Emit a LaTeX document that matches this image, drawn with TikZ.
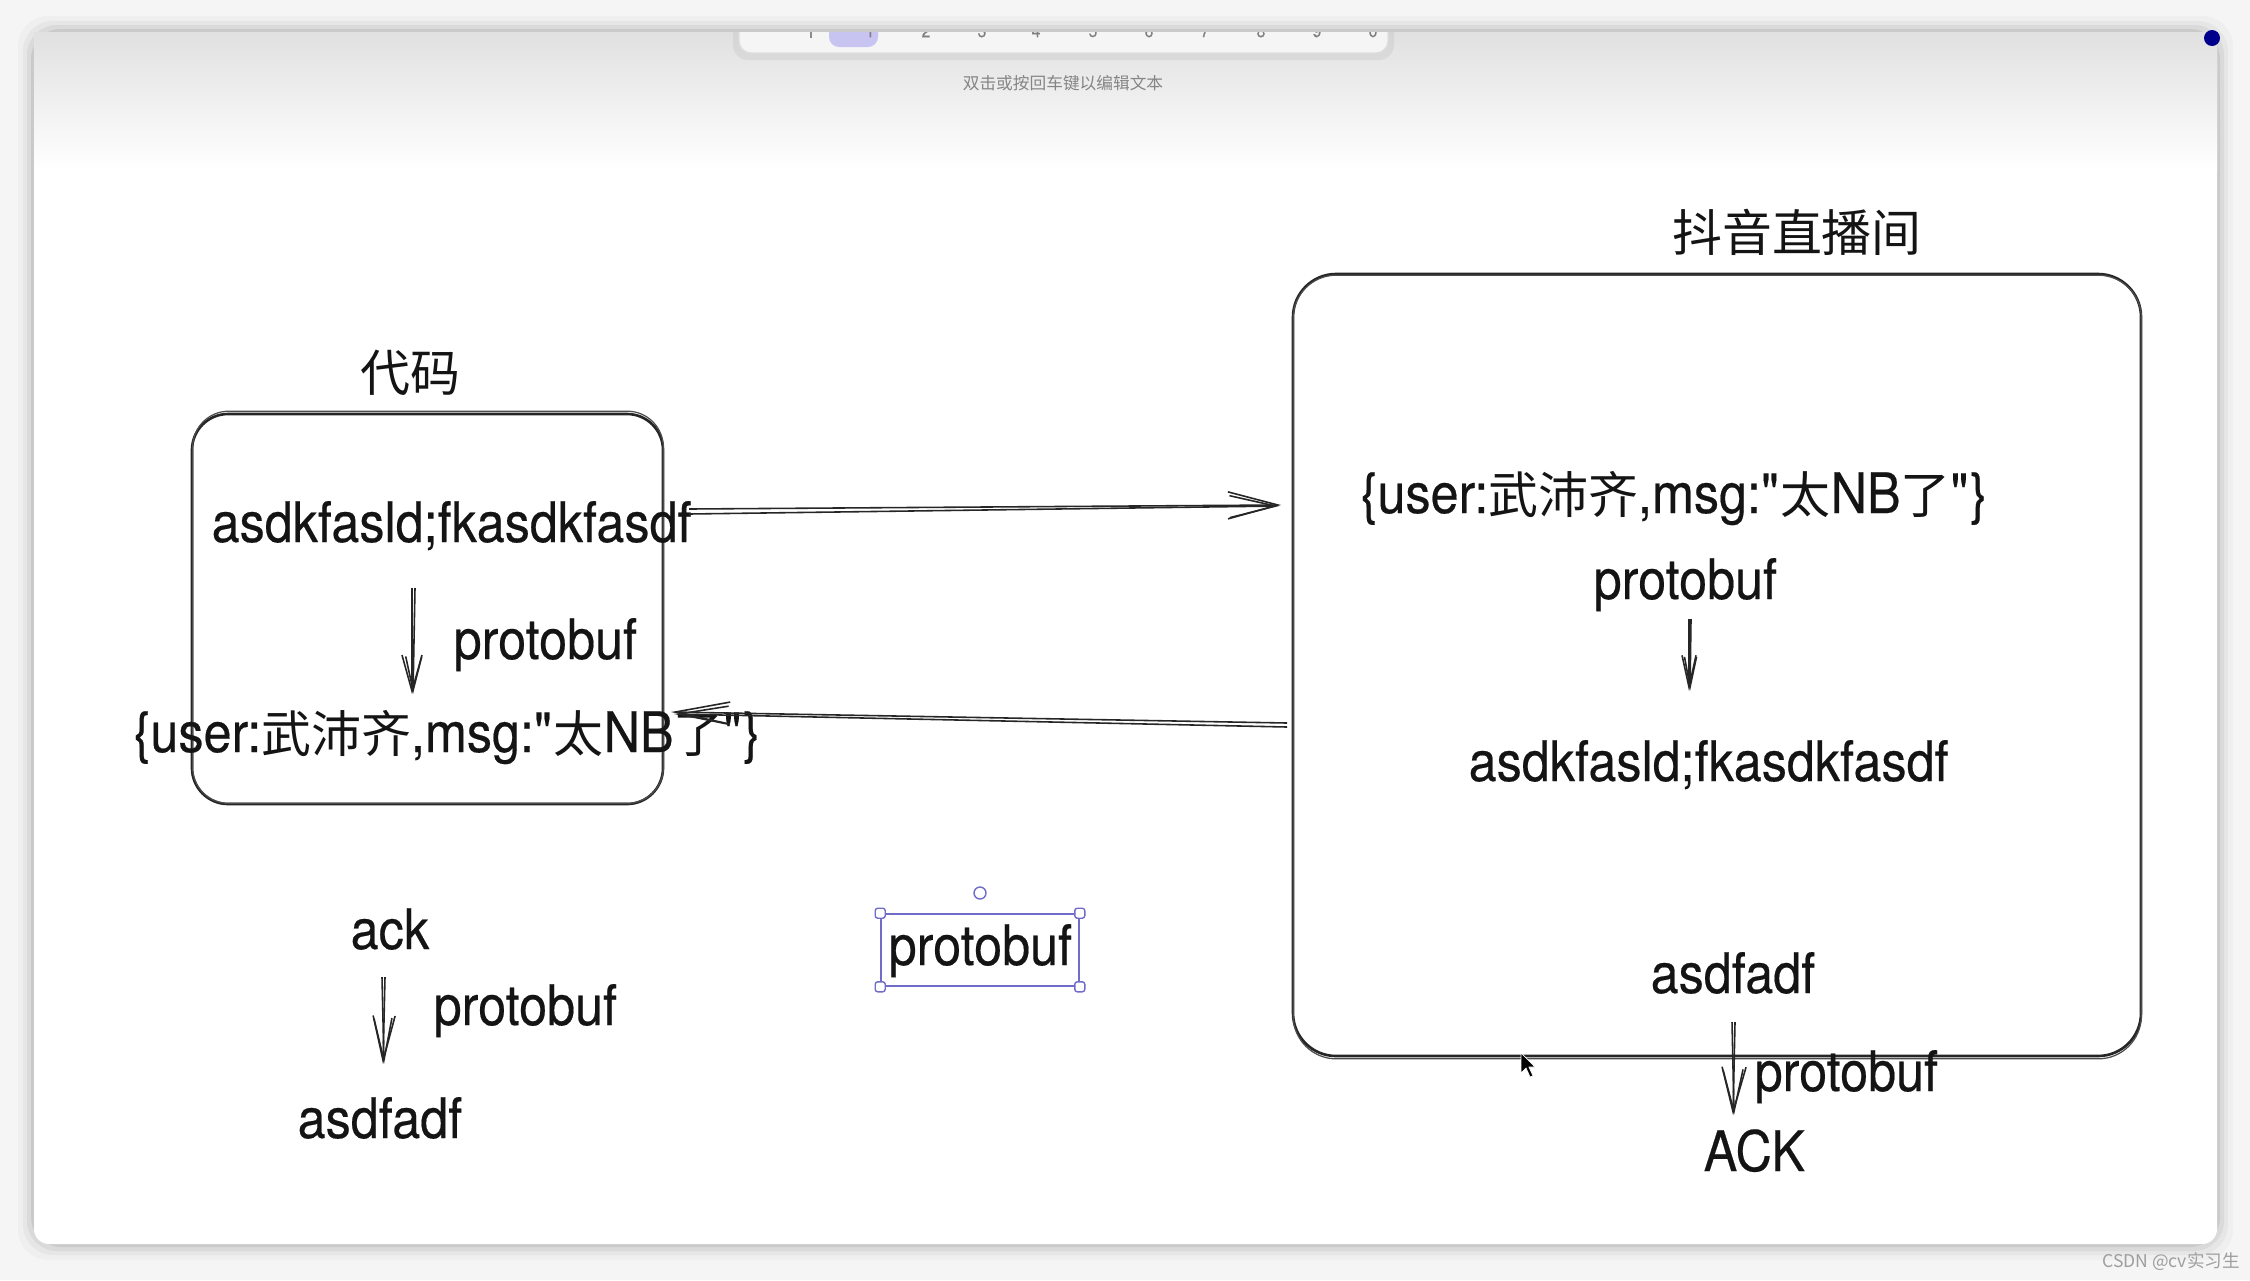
\documentclass[tikz,border=0pt]{standalone}
\usepackage{fontspec}
\setmainfont{TeX Gyre Heros}[FakeStretch=0.9,FakeBold=0.35]
\newfontfamily\cjk{Noto Sans CJK SC}
\usetikzlibrary{arrows.meta}
\newcommand\zhc[1]{{\cjk\fontsize{14.2}{17}\selectfont#1}}
\definecolor{selc}{RGB}{112,108,200}
\definecolor{hilite}{RGB}{200,196,242}
\tikzset{
  lbl/.style={anchor=base west, inner sep=0pt, text=black!92, font=\fontsize{15.9}{18}\selectfont},
  ttl/.style={anchor=center, inner sep=0pt, text=black!92, font=\cjk\fontsize{14.2}{17}\selectfont},
  boxst/.style={draw=black!85, line width=0.75pt, inner sep=0pt},
  boxsk/.style={draw=black!70, line width=0.35pt},
  conn/.style={draw=black!85, line width=0.45pt},
  tinytxt/.style={inner sep=0pt, text=black!50, font=\fontsize{5}{6}\selectfont},
  handle/.style={draw=selc, fill=white, line width=0.4pt, inner sep=0pt, rounded corners=0.25mm}
}
\begin{document}
\begin{tikzpicture}[x=0.1mm,y=-0.1mm]
\useasboundingbox (0,0) rectangle (2250,1280);
% ---------- screenshot frame ----------
\fill[black!4] (0,0) rectangle (2250,1280);
\foreach \d/\o in {16/0.025,11/0.035,7/0.05,3/0.07}
  \fill[black,opacity=\o,rounded corners=3mm] (34-\d,32-\d) rectangle (2217+\d,1244+\d);
\fill[white,rounded corners=1.5mm] (34,32) rectangle (2217,1244);
\shade[top color=black!12, bottom color=white] (34,32) rectangle (2217,170);
\begin{scope}
  \clip (0,32) rectangle (2250,1280);
  \fill[black,opacity=0.05,rounded corners=1.5mm] (733,10) rectangle (1394,60);
  \filldraw[fill=black!4, draw=black!13, line width=0.4pt, rounded corners=1.2mm] (739,10) rectangle (1388,53);
  \fill[hilite,rounded corners=1mm] (829,10) rectangle (878,47);
  \draw[black!45,line width=0.3pt] (811,26) -- (811,38);
  \foreach \x/\t in {870/1,926/2,982/3,1036/4,1093/5,1149/6,1205/7,1261/8,1317/9,1373/0}
    \node[tinytxt] at (\x,31) {\t};
\end{scope}
\node[inner sep=0pt, text=black!48, font=\cjk\fontsize{4.75}{6}\selectfont] (hint) at (1063,83) {双击或按回车键以编辑文本};
\fill[blue!55!black] (2212,38) circle (8);
\node[inner sep=0pt, text=black!38, font=\cjk\fontsize{5}{6}\selectfont] (wm) at (2171,1262) {CSDN @cv实习生};

% ---------- left box ----------
\node[ttl] (ttlL) at (410,373) {代码};
\node[boxst, rounded corners=3.6mm, minimum width=47.1mm, minimum height=39mm] (lbox) at (427.5,609) {};
\draw[boxsk, rounded corners=3.6mm] ([xshift=0.2mm,yshift=0.15mm]lbox.north west) rectangle ([xshift=-0.1mm,yshift=0.2mm]lbox.south east);
\node[lbl] (lraw) at (211,542) {asdkfasld;fkasdkfasdf};
\node[lbl] (lpb) at (453,659) {protobuf};
\node[lbl] (ljson) at (133,752) {\{user:\zhc{武沛齐},msg:\textquotedbl\zhc{太}NB\zhc{了}\textquotedbl\}};
\coordinate (la1) at (412,588);
\coordinate (la2) at (412,694);
\draw[conn, -{Straight Barb[length=3.6mm,width=2mm]}] (la1) -- (la2);
\draw[conn, -{Straight Barb[length=3.4mm,width=1.6mm]}] ([xshift=0.3mm]la1) -- ([xshift=0.1mm]la2);

% ---------- right box ----------
\node[ttl] (ttlR) at (1797,232) {抖音直播间};
\node[boxst, rounded corners=4.3mm, minimum width=84.8mm, minimum height=78.2mm] (rbox) at (1717,665) {};
\draw[boxsk, rounded corners=4.3mm] ([xshift=0.15mm,yshift=-0.25mm]rbox.north west) rectangle ([xshift=-0.1mm,yshift=-0.15mm]rbox.south east);
\node[lbl] (rjson) at (1360,513) {\{user:\zhc{武沛齐},msg:\textquotedbl\zhc{太}NB\zhc{了}\textquotedbl\}};
\node[lbl] (rpb) at (1593,599) {protobuf};
\node[lbl] (rraw) at (1468,781) {asdkfasld;fkasdkfasdf};
\node[lbl] (rasd) at (1650,993) {asdfadf};
\node[lbl] (rpb2) at (1754,1091) {protobuf};
\node[lbl] (rack) at (1703,1171) {ACK};
\coordinate (ra1) at (1689,619);
\coordinate (ra2) at (1689,691);
\draw[conn, -{Straight Barb[length=3.2mm,width=1.4mm]}] (ra1) -- (ra2);
\draw[conn, -{Straight Barb[length=3mm,width=1.2mm]}] ([xshift=0.2mm]ra1) -- ([xshift=0.1mm]ra2);
\coordinate (rb1) at (1735,1022);
\coordinate (rb2) at (1733,1115);
\draw[conn, -{Straight Barb[length=4.5mm,width=2.4mm]}] (rb1) -- (rb2);
\draw[conn, -{Straight Barb[length=4.2mm,width=2mm]}] ([xshift=-0.3mm]rb1) -- ([xshift=0.1mm]rb2);
% mouse cursor
\filldraw[fill=black, draw=white, line width=0.2pt] (1521,1053) -- (1521,1073) -- (1526,1068) -- (1530,1077) -- (1533,1076) -- (1529,1067) -- (1535,1067) -- cycle;

% ---------- connectors between boxes ----------
\coordinate (t1) at (689,509);
\coordinate (t2) at (1281,505);
\draw[conn, -{Straight Barb[length=5mm,width=2.7mm]}] (t1) -- (t2);
\draw[conn, -{Straight Barb[length=4.6mm,width=2.2mm]}] ([yshift=-0.5mm]t1) -- ([xshift=-0.2mm,yshift=-0.1mm]t2);
\coordinate (b1) at (1287,723);
\coordinate (b2) at (671,712);
\draw[conn, -{Straight Barb[length=5.5mm,width=2.2mm]}] (b1) -- (b2);
\draw[conn, -{Straight Barb[length=5mm,width=1.8mm]}] ([yshift=-0.4mm]b1) -- ([xshift=0.3mm,yshift=-0.2mm]b2);

% ---------- bottom left ----------
\node[lbl] (ack) at (350,949) {ack};
\node[lbl] (bpb) at (433,1025) {protobuf};
\node[lbl] (basd) at (297,1138) {asdfadf};
\coordinate (ba1) at (385,977);
\coordinate (ba2) at (383,1064);
\draw[conn, -{Straight Barb[length=4.5mm,width=2.2mm]}] (ba1) -- (ba2);
\draw[conn, -{Straight Barb[length=4.2mm,width=1.8mm]}] ([xshift=-0.3mm]ba1) -- ([xshift=0.1mm]ba2);

% ---------- selected text ----------
\node[lbl] (selp) at (888,965) {protobuf};
\node[draw=selc, line width=0.45pt, inner sep=0pt, minimum width=19.8mm, minimum height=7.2mm] (sel) at (980,950) {};
\foreach \c in {north west,north east,south west,south east}
  \node[handle, minimum size=1mm] at (sel.\c) {};
\draw[selc, line width=0.4pt, fill=white] (980,893) circle (6);
\end{tikzpicture}
\end{document}
